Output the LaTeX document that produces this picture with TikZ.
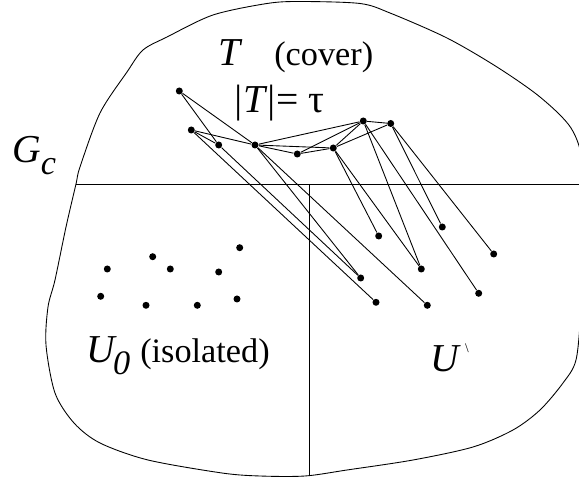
\documentclass[tikz,border=0pt]{standalone}
\usepackage{fontspec}
\setmainfont{Liberation Serif}
\newcommand\mvar[1]{{\fontsize{22.5}{24}\selectfont\textit{#1}}}

\begin{document}
\begin{tikzpicture}[x=0.2mm,y=-0.2mm,line width=0.5pt,
      dot/.style={circle,fill,inner sep=0pt,minimum size=1.4mm},
      lbl/.style={inner sep=0pt,anchor=base west,
                  font=\fontsize{19.5}{22}\selectfont}]
    \useasboundingbox (0,0) rectangle (579,483);

    % the component
    \draw plot[smooth cycle,tension=0.5] coordinates {
      (143,50) (167,37) (213,15) (267,3.5) (300,1.5) (360,3.5) (390,13)
      (447,38) (497,67) (540,97) (571,128) (583,165) (585,240) (581,310)
      (576,360) (563,383) (540,410) (513,430) (473,447) (413,460) (347,470)
      (305,476) (260,476) (222,473) (148,460) (100,443) (74,423) (55,393)
      (46,345) (48,307) (55,280) (66,227) (76,184) (80,167) (100,113) (127,72)};
    \coordinate (hl) at (76,184);  \coordinate (hr) at (579,184);
    \coordinate (vt) at (309.5,184); \coordinate (vb) at (309.5,476);
    \draw (hl) -- (hr);
    \draw (vt) -- (vb);

    % labels
    \node[lbl] (gc) at (12,163) {\mvar{G}\raisebox{-2.4mm}{\textit{c}}};
    \node[lbl] (tc) at (218,66) {\mvar{T}\hspace{6.3mm}(cover)};
    \node[lbl,font=\fontsize{22.5}{24}\selectfont] (tau) at (232,113)
      {\textit{|T|}= τ};
    \node[lbl] (u0) at (86,363)
      {\mvar{U}\hspace{-0.8mm}\raisebox{-2.3mm}{\textit{0}}\hspace{2mm}(isolated)};
    \node[lbl] (u1l) at (430,372)
      {\mvar{U}\hspace{0.8mm}\raisebox{3.9mm}{\fontsize{7.5}{8}\selectfont\textbackslash}};

    % cover T
    \node[dot] (t1) at (179.3,91) {};
    \node[dot] (t2) at (191.3,130) {};
    \node[dot] (t3) at (218.7,145) {};
    \node[dot] (t4) at (255,145) {};
    \node[dot] (t5) at (297.3,154) {};
    \node[dot] (t6) at (333.3,148) {};
    \node[dot] (t7) at (363.3,121) {};
    \node[dot] (t8) at (390.7,123.5) {};
    \foreach \a/\b in {t1/t3,t1/t4,t2/t3,t2/t4,t4/t5,t4/t6,t4/t7,
                       t5/t6,t5/t7,t6/t7,t6/t8,t7/t8}
      \draw (\a) -- (\b);

    % neighbours in U'
    \node[dot] (n1) at (378.7,236) {};
    \node[dot] (n2) at (442.3,227) {};
    \node[dot] (n3) at (493.7,254) {};
    \node[dot] (n4) at (360.7,278) {};
    \node[dot] (n5) at (421.3,269) {};
    \node[dot] (n6) at (478.7,293.3) {};
    \node[dot] (n7) at (376,302.3) {};
    \node[dot] (n8) at (427.3,305.3) {};
    \foreach \a/\b in {t2/n7,t3/n4,t4/n4,t4/n8,t6/n1,t6/n5,
                       t7/n5,t7/n6,t8/n2,t8/n3}
      \draw (\a) -- (\b);

    % isolated vertices
    \foreach \x/\y [count=\i] in {107.3/269,152.7/256.7,170.3/269,218.7/272,
                                  239.7/247.7,100.7/296.3,146/305.3,
                                  197.3/305.3,237/299}
      \node[dot] (i\i) at (\x,\y) {};
  \end{tikzpicture}
\end{document}
